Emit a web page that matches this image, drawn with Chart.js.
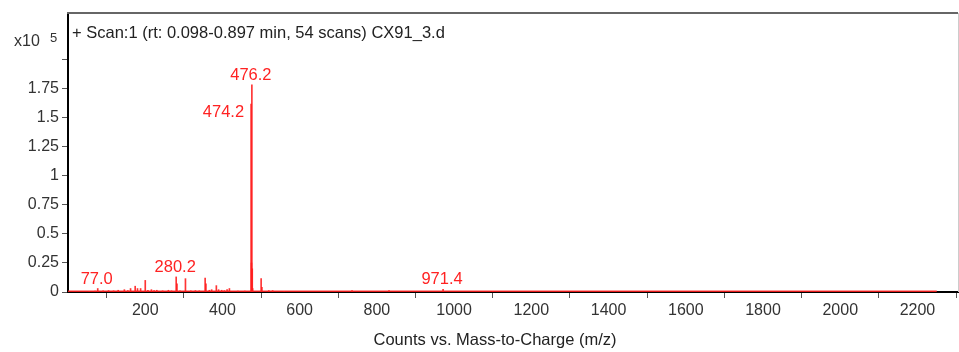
<!DOCTYPE html>
<html>
<head>
<meta charset="utf-8">
<script src="https://cdn.jsdelivr.net/npm/chart.js@4/dist/chart.umd.min.js"></script>
<style>
  html, body { margin: 0; padding: 0; background: #fff; }
  #wrap { position: relative; width: 959px; height: 352px; }
</style>
</head>
<body>
<div id="wrap"><canvas id="ms"></canvas></div>
<script>
// Mass spectrum: peak positions (m/z) and their abundances (counts)
const mzValues = [
  55, 70, 77.0, 91, 105, 118, 130, 146, 155, 162, 174, 180, 188, 200.1, 207, 216, 223, 230,
  245, 260, 268, 280.2, 282.2, 290, 304.2, 318, 330, 340, 355.2, 357.2, 366, 372, 384.2,
  390, 398, 405, 412, 418, 440, 458, 474.2, 475.2, 476.2, 477.2, 478.2, 500.2, 502.2,
  520, 530, 560, 735.6, 831.4, 971.4, 1100
];
const counts = [
  500, 800, 3000, 1000, 1200, 1000, 1500, 2000, 1200, 3000, 5000, 3000, 3000, 10000, 1500, 2000, 1200, 1500,
  1000, 1500, 1000, 13000, 7000, 1000, 11500, 1000, 1200, 1000, 12000, 7000, 1500, 2000, 5500,
  2000, 1500, 1200, 2000, 3000, 800, 800, 162000, 25000, 178500, 20000, 3000, 11500, 4000,
  1200, 1200, 500, 1200, 1200, 2200, 400
];
// Peaks that carry an m/z annotation
const labeledPeaks = [77.0, 280.2, 474.2, 476.2, 971.4];
// Axis ticks
const xTicks = [0, 200, 400, 600, 800, 1000, 1200, 1400, 1600, 1800, 2000, 2200];
const yTicks = [0, 25000, 50000, 75000, 100000, 125000, 150000, 175000, 200000];
const baselineRange = [0, 2250];

const headerText = '+ Scan:1 (rt: 0.098-0.897 min, 54 scans) CX91_3.d';
const xTitle = 'Counts vs. Mass-to-Charge (m/z)';

const FONT = "'Liberation Sans', Arial, sans-serif";
const RED = 'rgba(255,30,30,0.9)';

const peakData = mzValues.map((m, i) => ({ x: m, y: counts[i] }));
const baseline = baselineRange.map(m => ({ x: m, y: 700 }));

const annotations = {
  id: 'annotations',
  afterDatasetsDraw(chart) {
    const { ctx, scales: { x, y } } = chart;
    ctx.save();
    ctx.font = '16.5px ' + FONT;
    ctx.fillStyle = '#ff2222';
    labeledPeaks.forEach(m => {
      const h = counts[mzValues.indexOf(m)];
      const px = x.getPixelForValue(m);
      const py = y.getPixelForValue(h);
      const txt = m.toFixed(1);
      if (m === 474.2) {
        ctx.textAlign = 'right';
        ctx.textBaseline = 'middle';
        ctx.fillText(txt, px - 7, py + 8);
      } else {
        ctx.textAlign = 'center';
        ctx.textBaseline = 'alphabetic';
        const base = Math.min(py - 5, y.getPixelForValue(0) - 8);
        ctx.fillText(txt, px - 1, base);
      }
    });
    ctx.restore();
  },
  afterDraw(chart) {
    const { ctx, chartArea } = chart;
    ctx.save();
    // frame: top and right edges
    ctx.strokeStyle = '#666';
    ctx.lineWidth = 2;
    ctx.beginPath();
    ctx.moveTo(chartArea.left - 1, chartArea.top);
    ctx.lineTo(chartArea.right, chartArea.top);
    ctx.stroke();
    ctx.strokeStyle = '#ccc';
    ctx.lineWidth = 1;
    ctx.beginPath();
    ctx.moveTo(chartArea.right + 0.5, chartArea.top);
    ctx.lineTo(chartArea.right + 0.5, chartArea.bottom);
    ctx.stroke();
    // header inside the plot
    ctx.fillStyle = '#222';
    ctx.font = '16.5px ' + FONT;
    ctx.textAlign = 'left';
    ctx.textBaseline = 'middle';
    ctx.fillText(headerText, chartArea.left + 4, 33);
    // exponent label
    ctx.fillStyle = '#333';
    ctx.font = '16px ' + FONT;
    ctx.fillText('x10', 14, 42);
    ctx.font = '13px ' + FONT;
    ctx.fillText('5', 50, 38);
    // x axis title
    ctx.font = '16.5px ' + FONT;
    ctx.textAlign = 'center';
    ctx.fillStyle = '#222';
    ctx.fillText(xTitle, 495, 340);
    ctx.restore();
  }
};

new Chart(document.getElementById('ms'), {
  type: 'bar',
  data: {
    datasets: [
      {
        type: 'line',
        data: baseline,
        borderColor: RED,
        borderWidth: 1.5,
        pointRadius: 0,
        order: 2
      },
      {
        type: 'bar',
        data: peakData,
        backgroundColor: RED,
        borderWidth: 0,
        barThickness: 1,
        order: 1
      }
    ]
  },
  options: {
    responsive: true,
    maintainAspectRatio: false,
    animation: false,
    layout: { padding: { left: 0, top: 13, right: 1, bottom: 0 } },
    plugins: { legend: { display: false }, tooltip: { enabled: false } },
    scales: {
      x: {
        type: 'linear',
        min: 0,
        max: 2305,
        offset: false,
        afterFit(s) { s.height = 60; },
        afterBuildTicks(s) { s.ticks = xTicks.map(v => ({ value: v })); },
        border: { color: '#000', width: 2 },
        grid: { drawOnChartArea: false, drawTicks: true, tickLength: 6, tickColor: '#555' },
        ticks: {
          color: '#333',
          font: { family: FONT, size: 16 },
          padding: 3,
          maxRotation: 0,
          autoSkip: false,
          callback: v => (v === 0 ? '' : String(v))
        }
      },
      y: {
        min: 0,
        max: 240500,
        afterFit(s) { s.width = 68; },
        afterBuildTicks(s) { s.ticks = yTicks.map(v => ({ value: v })); },
        border: { color: '#000', width: 2 },
        grid: { drawOnChartArea: false, drawTicks: true, tickLength: 6, tickColor: '#555' },
        ticks: {
          color: '#333',
          font: { family: FONT, size: 16 },
          padding: 3,
          autoSkip: false,
          callback: v => (v >= 200000 ? '' : String(v / 100000))
        }
      }
    }
  },
  plugins: [annotations]
});
</script>
</body>
</html>
